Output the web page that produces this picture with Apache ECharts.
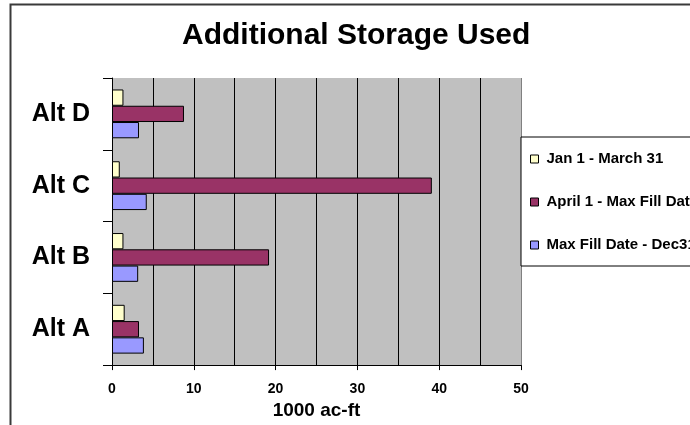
<!DOCTYPE html>
<html>
<head>
<meta charset="utf-8">
<style>html,body{margin:0;padding:0;background:#fff;}#c{width:690px;height:425px;}</style>
<script src="https://cdn.jsdelivr.net/npm/echarts@6/dist/echarts.min.js"></script>
</head>
<body>
<div id="c"></div>
<script>
var categories = ['Alt A', 'Alt B', 'Alt C', 'Alt D'];
var seriesNames = ['Jan 1 - March 31', 'April 1 - Max Fill Date', 'Max Fill Date - Dec31'];
var janMar = [1.55, 1.4, 0.95, 1.4];
var aprMax = [3.3, 19.2, 39.1, 8.8];
var maxDec = [3.9, 3.2, 4.25, 3.3];
var xTicks = [0, 10, 20, 30, 40, 50];

var colors = ['#FFFFCC', '#993366', '#9999FF'];
var values = [janMar, aprMax, maxDec];
var FONT = '"Liberation Sans", Arial, sans-serif';

var chart = echarts.init(document.getElementById('c'), null, {renderer: 'canvas'});
var series = [];
for (var i = 0; i < values.length; i++) {
  series.push({
    name: seriesNames[i],
    type: 'bar',
    data: values[i],
    barGap: '0%',
    barCategoryGap: '32%',
    itemStyle: {color: colors[i], borderColor: '#000', borderWidth: 1},
    emphasis: {disabled: true}
  });
}
chart.setOption({
  animation: false,
  textStyle: {fontFamily: FONT},
  title: {
    text: 'Additional Storage Used',
    left: 177, top: 16,
    textStyle: {fontFamily: FONT, fontSize: 30, fontWeight: 'bold', color: '#000'}
  },
  graphic: [{
    type: 'rect', silent: true, z: -1,
    shape: {x: 10.5, y: 4.5, width: 720, height: 460},
    style: {fill: 'none', stroke: '#3a3a3a', lineWidth: 2}
  }],
  legend: {
    data: seriesNames.slice(),
    orient: 'vertical',
    left: 521, top: 137,
    padding: [14, 40, 13, 9],
    itemGap: 27,
    itemWidth: 8, itemHeight: 8,
    icon: 'rect',
    backgroundColor: '#fff',
    borderColor: '#000', borderWidth: 1,
    itemStyle: {borderColor: '#000', borderWidth: 1},
    textStyle: {fontFamily: FONT, fontSize: 15, fontWeight: 'bold', color: '#000', lineHeight: 16, padding: [0, 0, 0, 3]},
    selectedMode: false
  },
  grid: {
    left: 112, top: 78, width: 409, height: 290,
    show: true, backgroundColor: '#C0C0C0', borderWidth: 0,
    containLabel: false
  },
  xAxis: {
    type: 'value', min: xTicks[0], max: xTicks[xTicks.length - 1], interval: 10,
    name: '1000 ac-ft', nameLocation: 'middle', nameGap: 31,
    nameTextStyle: {fontFamily: FONT, fontSize: 19, fontWeight: 'bold', color: '#000'},
    axisLine: {show: true, lineStyle: {color: '#000', width: 1}},
    axisTick: {show: true, length: 5, lineStyle: {color: '#000'}},
    axisLabel: {margin: 17, fontFamily: FONT, fontSize: 14, fontWeight: 'bold', color: '#000'},
    splitLine: {show: true, lineStyle: {color: ['#000', '#000', '#000', '#000', '#000', '#808080'], width: 1}},
    minorTick: {show: false, splitNumber: 2},
    minorSplitLine: {show: true, lineStyle: {color: '#000', width: 1}}
  },
  yAxis: {
    type: 'category', data: categories,
    axisLine: {show: true, lineStyle: {color: '#000', width: 1}},
    axisTick: {show: true, length: 9, lineStyle: {color: '#000'}},
    axisLabel: {margin: 22, fontFamily: FONT, fontSize: 25, fontWeight: 'bold', color: '#000'},
    splitLine: {show: false}
  },
  series: series
});
</script>
</body>
</html>
